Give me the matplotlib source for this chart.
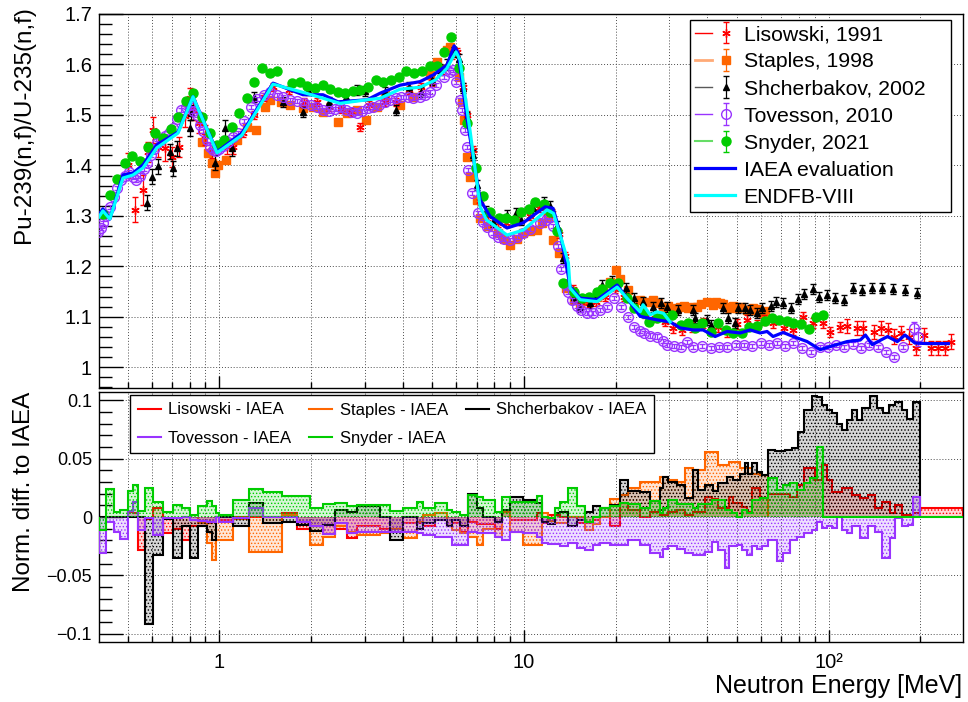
import numpy as np
import matplotlib
matplotlib.use("Agg")
import matplotlib.pyplot as plt
from matplotlib.lines import Line2D
from matplotlib.legend_handler import HandlerTuple
from matplotlib.ticker import LogLocator, MultipleLocator, FuncFormatter, NullFormatter

plt.rcParams['font.family'] = ['Liberation Sans', 'DejaVu Sans']
plt.rcParams['hatch.linewidth'] = 0.6

RED = '#ff0000'
ORANGE = '#ff6600'
BLACK = '#000000'
PURPLE = '#9933ff'
GREEN = '#00cc00'
BLUE = '#0000ff'
CYAN = '#00ffff'

# ---------------- upper panel: ratio Pu-239(n,f)/U-235(n,f) ----------------
iaea_e = [0.403, 0.415, 0.4375, 0.483, 0.521, 0.562, 0.624, 0.732, 0.820, 0.983, 1.187, 1.501,
          1.883, 2.19, 2.453, 3.054, 3.371, 3.92, 4.56, 5.03, 5.59, 5.90, 6.08, 6.51, 7.18, 7.74,
          8.80, 9.93, 11.73, 12.46, 13.14, 13.8, 14.17, 15.29, 17.38, 20.22, 21.97, 24.06, 27.35,
          30.2, 32.55, 35.9, 38.7, 42.4, 46.4, 51.2, 55.3, 59.6, 62.8, 65.7, 70.9, 76.5, 85.0,
          93.8, 101, 115, 127, 132, 139, 156, 168, 178, 192, 211, 247]
iaea_v = [1.302, 1.314, 1.294, 1.381, 1.385, 1.401, 1.441, 1.466, 1.536, 1.427, 1.464, 1.563,
          1.540, 1.540, 1.526, 1.530, 1.543, 1.559, 1.566, 1.579, 1.599, 1.637, 1.623, 1.490,
          1.332, 1.299, 1.276, 1.286, 1.318, 1.315, 1.266, 1.200, 1.160, 1.137, 1.134, 1.163,
          1.134, 1.101, 1.094, 1.090, 1.078, 1.074, 1.074, 1.061, 1.071, 1.068, 1.074, 1.068,
          1.071, 1.061, 1.069, 1.061, 1.051, 1.035, 1.041, 1.051, 1.054, 1.064, 1.045, 1.061,
          1.051, 1.064, 1.048, 1.047, 1.047]

endf_e = [0.403, 0.415, 0.4375, 0.483, 0.521, 0.562, 0.624, 0.732, 0.820, 0.983, 1.187, 1.501,
          1.93, 2.49, 3.05, 3.37, 3.92, 4.56, 5.11, 5.58, 5.98, 6.17, 6.67, 7.18, 7.54, 8.80,
          9.95, 11.9, 12.5, 13.3, 13.99, 14.17, 15.29, 17.38, 20.22, 22.0, 24.06, 24.6, 25.94,
          27.35, 28.7, 30.17]
endf_v = [1.298, 1.310, 1.294, 1.375, 1.381, 1.395, 1.435, 1.464, 1.536, 1.425, 1.460, 1.561,
          1.543, 1.523, 1.530, 1.533, 1.551, 1.555, 1.569, 1.592, 1.625, 1.609, 1.464, 1.318,
          1.292, 1.262, 1.272, 1.312, 1.305, 1.252, 1.207, 1.157, 1.134, 1.130, 1.159, 1.134,
          1.110, 1.124, 1.104, 1.110, 1.107, 1.090]

lis_e = [0.500, 0.528, 0.563, 0.585, 0.606, 0.629, 0.664, 0.698, 0.735, 0.772, 0.800, 0.821,
         0.86, 0.90, 0.95, 1.057, 1.11, 1.2, 1.3, 1.4, 1.5, 1.7, 1.9, 2.1, 2.3, 2.5, 2.7, 2.9,
         3.1, 3.5, 3.8, 4.2, 4.6, 5.0, 5.4, 5.8, 6.05, 6.3, 6.5, 6.8, 7.2, 7.6, 8.2, 8.7, 9.5,
         10.5, 11.2, 11.8, 12.4, 13.0, 13.6, 14.5, 15.4, 16.4, 17.3, 18.5, 19.9, 21.3, 23.0,
         25.0, 27.0, 29.0, 30.8, 33.1, 35.5, 38.7, 43.2, 46.4, 50.0, 53.9, 58.2, 61.2, 65.7,
         71.2, 76.5, 82.6, 89.0, 96.0, 101, 109, 115, 124, 130, 141, 148, 156, 164, 173, 184,
         194, 206, 217, 228, 240, 253]
lis_v = [1.400, 1.312, 1.352, 1.427, 1.470, 1.437, 1.434, 1.417, 1.437, 1.497, 1.533, 1.510,
         1.485, 1.460, 1.430, 1.437, 1.437, 1.465, 1.500, 1.535, 1.555, 1.550, 1.525, 1.525,
         1.515, 1.512, 1.505, 1.477, 1.520, 1.525, 1.525, 1.550, 1.555, 1.565, 1.590, 1.618,
         1.625, 1.555, 1.500, 1.430, 1.330, 1.300, 1.285, 1.285, 1.290, 1.300, 1.315, 1.310,
         1.305, 1.265, 1.220, 1.155, 1.130, 1.128, 1.130, 1.140, 1.155, 1.140, 1.120, 1.105,
         1.098, 1.090, 1.078, 1.074, 1.080, 1.088, 1.080, 1.070, 1.085, 1.094, 1.084, 1.094,
         1.088, 1.078, 1.074, 1.100, 1.088, 1.088, 1.070, 1.080, 1.082, 1.078, 1.078, 1.070,
         1.078, 1.074, 1.061, 1.068, 1.061, 1.039, 1.064, 1.039, 1.039, 1.039, 1.051]
lis_err = [0.025, 0.025, 0.030, 0.020, 0.025, 0.020, 0.025, 0.020, 0.020, 0.020, 0.020, 0.020,
           0.020, 0.020, 0.015, 0.015, 0.015] + [0.008] * 45 + [0.010] * 18 + [0.014] * 15

sta_e = [0.88, 0.918, 0.946, 0.968, 0.99, 1.05, 1.14, 1.23, 1.32, 1.41, 1.467, 1.60, 1.707,
         1.88, 2.03, 2.19, 2.45, 2.62, 2.83, 3.03, 3.30, 3.50, 3.92, 4.33, 4.93, 5.17, 5.59,
         5.71, 6.14, 6.28, 6.37, 6.51, 6.67, 7.03, 7.18, 7.6, 8.19, 8.6, 9.03, 9.5, 9.93, 10.5,
         11.0, 11.5, 12.0, 12.5, 13.0, 13.7, 14.6, 15.3, 16.2, 17.4, 18.2, 19.1, 20.07, 20.6,
         22.0, 24.1, 25.3, 26.6, 27.5, 28.7, 29.8, 30.9, 31.7, 32.6, 33.5, 34.5, 35.9, 37.0,
         38.0, 39.8, 41.8, 42.8, 44.0, 45.0, 46.4, 47.5, 48.5, 50.0, 51.5, 53.9, 55.0, 56.6,
         58.0, 59.6, 61.0, 62.0]
sta_v = [1.447, 1.425, 1.405, 1.385, 1.400, 1.410, 1.450, 1.476, 1.470, 1.516, 1.530, 1.525,
         1.520, 1.514, 1.516, 1.505, 1.486, 1.504, 1.510, 1.490, 1.515, 1.540, 1.520, 1.536,
         1.579, 1.605, 1.629, 1.635, 1.575, 1.526, 1.490, 1.417, 1.377, 1.332, 1.296, 1.280,
         1.266, 1.255, 1.243, 1.255, 1.266, 1.270, 1.272, 1.285, 1.296, 1.252, 1.227, 1.157,
         1.134, 1.128, 1.132, 1.140, 1.155, 1.170, 1.193, 1.174, 1.153, 1.134, 1.130, 1.134,
         1.128, 1.120, 1.122, 1.114, 1.118, 1.120, 1.122, 1.118, 1.120, 1.120, 1.125, 1.130,
         1.124, 1.130, 1.128, 1.126, 1.120, 1.118, 1.122, 1.118, 1.120, 1.114, 1.114, 1.118,
         1.116, 1.110, 1.108, 1.112]

shc_e = [0.580, 0.600, 0.631, 0.689, 0.706, 0.725, 0.801, 0.81, 0.968, 1.044, 1.098, 1.30,
         1.62, 1.888, 1.96, 2.3, 2.6, 2.83, 3.01, 3.5, 3.8, 4.2, 4.6, 5.0, 5.3, 5.6, 5.9, 6.1,
         6.3, 6.5, 6.8, 7.0, 7.5, 7.9, 8.8, 9.4, 9.8, 10.7, 11.6, 12.2, 12.8, 13.4, 14.6, 15.3,
         16.5, 17.4, 18.1, 19.5, 21.6, 22.9, 24.6, 26.5, 28.1, 29.5, 32.0, 35.9, 36.4, 39.8,
         41.1, 45.0, 46.9, 49.3, 50.4, 53.0, 55.3, 58.3, 60.5, 64.7, 67.2, 70.8, 75.3, 79.3,
         82.7, 88.6, 92.8, 99.1, 105, 112, 120, 129, 139, 150, 163, 178, 195]
shc_v = [1.326, 1.378, 1.398, 1.427, 1.394, 1.434, 1.474, 1.504, 1.405, 1.474, 1.434, 1.535,
         1.526, 1.506, 1.550, 1.525, 1.535, 1.550, 1.547, 1.545, 1.510, 1.555, 1.545, 1.570,
         1.590, 1.600, 1.625, 1.610, 1.553, 1.496, 1.420, 1.361, 1.310, 1.288, 1.302, 1.306,
         1.292, 1.316, 1.328, 1.320, 1.280, 1.217, 1.139, 1.120, 1.128, 1.145, 1.163, 1.170,
         1.157, 1.137, 1.130, 1.120, 1.128, 1.120, 1.114, 1.114, 1.098, 1.094, 1.084, 1.118,
         1.098, 1.088, 1.118, 1.118, 1.114, 1.108, 1.118, 1.122, 1.130, 1.128, 1.118, 1.136,
         1.145, 1.155, 1.140, 1.143, 1.138, 1.134, 1.157, 1.153, 1.157, 1.157, 1.155, 1.153,
         1.147]
shc_err = [0.015] * 11 + [0.010] * 74

tov_e = [0.400, 0.408, 0.415, 0.425, 0.437, 0.450, 0.462, 0.475, 0.490, 0.505, 0.520, 0.535,
         0.550, 0.565, 0.580, 0.595, 0.610, 0.625, 0.645, 0.665, 0.686, 0.705, 0.725, 0.749,
         0.775, 0.800, 0.822, 0.842, 0.862, 0.884, 0.910, 0.935, 0.953, 0.975, 1.00, 1.03,
         1.07, 1.11, 1.15, 1.21, 1.27, 1.33, 1.40, 1.47, 1.55, 1.62, 1.71, 1.80, 1.90, 2.00,
         2.10, 2.19, 2.30, 2.40, 2.49, 2.60, 2.72, 2.83, 2.95, 3.07, 3.20, 3.35, 3.50, 3.64,
         3.80, 3.95, 4.15, 4.33, 4.55, 4.75, 4.93, 5.15, 5.45, 5.70, 5.84, 6.00, 6.19, 6.28,
         6.40, 6.51, 6.56, 6.76, 7.09, 7.35, 7.59, 7.90, 8.19, 8.60, 9.03, 9.50, 9.93, 10.5,
         11.3, 11.8, 12.2, 12.5, 12.9, 13.2, 13.6, 14.0, 14.4, 14.9, 15.4, 16.1, 16.9, 17.8,
         18.8, 19.7, 20.8, 21.9, 22.9, 24.0, 24.8, 26.0, 27.4, 28.5, 29.5, 31.0, 32.7, 34.3,
         35.9, 38.3, 41.1, 43.5, 46.4, 49.5, 52.7, 56.0, 60.0, 63.8, 67.9, 72.0, 76.5, 81.5,
         87.6, 93.5, 99.6, 106, 112.6, 120, 128, 136, 145, 154, 164, 176, 190, 196]
tov_v = [1.268, 1.276, 1.285, 1.300, 1.318, 1.338, 1.355, 1.372, 1.380, 1.386, 1.378, 1.372,
         1.380, 1.392, 1.405, 1.420, 1.432, 1.444, 1.450, 1.458, 1.464, 1.475, 1.492, 1.510,
         1.516, 1.520, 1.508, 1.500, 1.480, 1.468, 1.450, 1.436, 1.430, 1.428, 1.432, 1.438,
         1.446, 1.456, 1.465, 1.488, 1.515, 1.532, 1.540, 1.545, 1.540, 1.535, 1.530, 1.527,
         1.524, 1.520, 1.515, 1.510, 1.508, 1.512, 1.516, 1.510, 1.505, 1.504, 1.508, 1.514,
         1.516, 1.520, 1.525, 1.530, 1.534, 1.536, 1.535, 1.534, 1.536, 1.540, 1.545, 1.560,
         1.576, 1.586, 1.590, 1.565, 1.530, 1.510, 1.470, 1.437, 1.391, 1.345, 1.306, 1.288,
         1.278, 1.266, 1.258, 1.254, 1.252, 1.258, 1.266, 1.275, 1.286, 1.292, 1.298, 1.280,
         1.240, 1.195, 1.165, 1.150, 1.134, 1.122, 1.114, 1.108, 1.108, 1.114, 1.120, 1.137,
         1.120, 1.100, 1.080, 1.072, 1.068, 1.063, 1.061, 1.052, 1.045, 1.043, 1.041, 1.050,
         1.041, 1.043, 1.039, 1.040, 1.041, 1.044, 1.045, 1.042, 1.048, 1.044, 1.048, 1.042,
         1.048, 1.038, 1.031, 1.040, 1.041, 1.044, 1.041, 1.046, 1.039, 1.044, 1.041, 1.030,
         1.021, 1.041, 1.078, 1.060]
tov_err = [0.004] * 146 + [0.012, 0.018]

sny_e = [0.415, 0.4375, 0.461, 0.490, 0.518, 0.548, 0.582, 0.617, 0.655, 0.694, 0.732, 0.776,
         0.820, 0.88, 0.93, 0.98, 1.036, 1.10, 1.16, 1.23, 1.30, 1.38, 1.467, 1.55, 1.73, 1.84,
         1.94, 2.06, 2.19, 2.31, 2.45, 2.58, 2.74, 2.90, 3.08, 3.27, 3.45, 3.66, 3.88, 4.11,
         4.36, 4.64, 4.90, 5.20, 5.47, 5.78, 6.10, 6.50, 6.95, 7.35, 7.76, 8.27, 8.76, 9.30,
         9.75, 10.4, 10.9, 11.6, 12.2, 12.8, 13.4, 14.6, 15.5, 16.3, 17.4, 18.0, 19.1, 20.3,
         21.8, 23.0, 24.6, 25.7, 27.4, 28.7, 30.6, 32.7, 34.6, 36.4, 38.3, 41.1, 43.3, 46.0,
         48.6, 51.9, 54.6, 58.2, 61.6, 65.4, 68.5, 72.9, 76.5, 81.3, 86.5, 90.9, 95.9]
sny_v = [1.304, 1.342, 1.373, 1.405, 1.419, 1.409, 1.437, 1.464, 1.454, 1.472, 1.496, 1.528,
         1.543, 1.495, 1.465, 1.440, 1.450, 1.476, 1.504, 1.533, 1.565, 1.593, 1.583, 1.587,
         1.563, 1.565, 1.557, 1.553, 1.559, 1.551, 1.545, 1.543, 1.548, 1.550, 1.555, 1.569,
         1.565, 1.569, 1.575, 1.587, 1.583, 1.587, 1.597, 1.597, 1.625, 1.654, 1.593, 1.484,
         1.394, 1.340, 1.308, 1.296, 1.296, 1.292, 1.308, 1.314, 1.328, 1.324, 1.308, 1.270,
         1.167, 1.150, 1.137, 1.139, 1.150, 1.155, 1.167, 1.167, 1.137, 1.118, 1.108, 1.090,
         1.098, 1.100, 1.104, 1.084, 1.088, 1.078, 1.088, 1.070, 1.088, 1.074, 1.068, 1.068,
         1.080, 1.082, 1.092, 1.098, 1.094, 1.092, 1.088, 1.086, 1.076, 1.100, 1.104]
sny_err = [0.005] * 95

# ---------------- lower panel: normalised differences to IAEA ----------------
low_edges = [0.402, 0.425, 0.450, 0.474, 0.503, 0.520, 0.542, 0.570, 0.604, 0.652, 0.706, 0.753,
             0.801, 0.853, 0.909, 0.944, 0.975, 1.0, 1.111, 1.254, 1.394, 1.603, 1.795, 1.986,
             2.195, 2.398, 2.620, 2.826, 3.371, 3.635, 4.019, 4.448, 4.676, 5.108, 5.580, 5.795,
             6.170, 6.569, 6.999, 7.357, 8.036, 8.454, 9.004, 9.955, 11.02, 11.44, 12.03, 12.65,
             13.14, 13.99, 14.91, 15.87, 16.90, 17.78, 19.17, 20.68, 22.02, 24.06, 25.94, 27.98]

lis_d_low = [0.0046, 0.0037, -0.028, -0.002, 0.008, -0.0134, -0.0105, -0.020, -0.0077, -0.008,
             -0.0054, -0.004, 0.0, -0.0026, 0.0, 0.0, 0.0, 0.0037, -0.01, -0.008, -0.0145, -0.01,
             -0.018, -0.008, -0.0105, -0.0105, -0.0054, -0.0054, -0.008, -0.0026, -0.008, -0.005,
             -0.0125, -0.004, -0.006, -0.006, -0.01, 0.005, -0.0026, -0.0026, 0.003, -0.0054,
             0.0017, 0.0017, 0.0, 0.0, -0.0054, -0.0054, -0.0026, 0.0, -0.008, 0.0117, 0.006,
             0.0, 0.0046]
lis_d_hi_edges = [29.79, 31.74, 33.81, 35.98, 39.30, 41.35, 43.46, 46.96, 48.60, 51.89, 53.90,
                  55.96, 59.58, 63.44, 70.26, 74.74, 78.62, 83.08, 90.3, 95.03, 98.65, 102.4,
                  110.5, 119.2, 126.9, 135.1, 142.1, 149.5, 159.2, 165.3, 173.9, 189.8, 198.7, 276]
lis_d_hi = [0.0017, 0.004, 0.006, 0.0017, 0.0046, 0.0174, 0.015, 0.0074, 0.0174, 0.0117, 0.0088,
            0.0046, 0.0245, 0.016, 0.020, 0.020, 0.0174, 0.027, 0.0416, 0.0316, 0.0444, 0.032,
            0.0217, 0.0245, 0.0188, 0.016, 0.019, 0.0074, 0.013, 0.003, 0.010, 0.0017, 0.003, 0.008]

sta_d_low = [-0.0054, -0.0225, -0.0367, -0.0197, -0.0197, -0.002, -0.0296, -0.0296, 0.0017,
             -0.004, -0.024, -0.0168, -0.008, -0.0125, -0.015, -0.014, -0.01, -0.018, -0.004,
             0.0017, 0.003, -0.008, -0.011, -0.014, -0.0168, -0.024, -0.01, -0.0168, 0.0046,
             -0.0125, -0.024, -0.024, 0.003, -0.003, -0.0054, -0.0054, 0.0, 0.0, -0.011, -0.006,
             0.0, 0.015, 0.019, 0.0245, 0.030, 0.030]
sta_d_hi_edges = [29.79, 31.74, 33.81, 35.98, 39.30, 41.85, 43.46, 46.96, 51.23, 55.96, 59.58, 63.44]
sta_d_hi = [0.0345, 0.0316, 0.030, 0.0416, 0.040, 0.0558, 0.0558, 0.0444, 0.047, 0.0416, 0.037, 0.036]

shc_d_low = [0.0, 0.0, 0.0, 0.0, 0.0, 0.0, 0.0, -0.0915, -0.0325, -0.002, -0.035, -0.008, -0.035,
             -0.008, -0.0125, -0.0197, 0.0, 0.0, -0.008, 0.012, -0.005, -0.004, -0.007, -0.0117,
             -0.007, 0.006, 0.0046, 0.009, 0.0, -0.0197, 0.0, -0.01, -0.0054, -0.0026, -0.008,
             -0.0026, -0.008, 0.020, 0.0074, 0.0, -0.004, 0.006, 0.0174, 0.0145, 0.0117, -0.004,
             -0.006, 0.003, 0.0046, -0.008, -0.0026, 0.0046, 0.0094, 0.0074, 0.010, 0.0316, 0.022,
             0.0217, 0.014]
shc_d_hi_edges = [28.69, 29.79, 31.74, 33.81, 35.98, 37.37, 39.30, 41.85, 43.46, 46.33, 48.70,
                  51.23, 53.20, 54.55, 55.96, 58.12, 60.36, 63.44, 66.73, 71.97, 75.71, 79.58,
                  83.08, 88.10, 91.49, 95.03, 98.65, 102.4, 106.4, 110.5, 114.7, 119.2, 123.8,
                  128.5, 136.9, 144.0, 151.3, 157.2, 165.3, 173.9, 180.6, 189.8, 198.7]
shc_d_hi = [0.0245, 0.0345, 0.030, 0.027, 0.016, 0.040, 0.023, 0.027, 0.022, 0.029, 0.0345,
            0.0316, 0.037, 0.046, 0.037, 0.046, 0.0387, 0.036, 0.057, 0.0564, 0.057, 0.0587,
            0.073, 0.0915, 0.104, 0.103, 0.096, 0.0915, 0.0886, 0.080, 0.0744, 0.083, 0.0915,
            0.083, 0.093, 0.104, 0.093, 0.0886, 0.096, 0.0986, 0.0915, 0.084, 0.0986]

tov_d_low = [-0.031, -0.004, -0.0125, -0.019, 0.005, 0.013, -0.011, -0.001, -0.015, -0.001,
             -0.001, 0.0, -0.0026, -0.0034, -0.004, -0.004, 0.0, -0.004, -0.001, 0.008, 0.0, 0.0,
             -0.004, -0.008, -0.0145, -0.0054, -0.0134, -0.0125, -0.0125, -0.0125, -0.0125,
             -0.014, -0.0155, -0.0168, -0.0168, -0.024, -0.024, -0.0125, -0.014, -0.014, -0.0168,
             -0.0197, -0.0125, -0.014, -0.0168, -0.0225, -0.0234, -0.0234, -0.025, -0.0225,
             -0.0268, -0.028, -0.024, -0.0225, -0.024, -0.024, -0.0197, -0.024, -0.031]
tov_d_hi_edges = [28.69, 29.79, 31.74, 33.81, 35.98, 39.30, 41.35, 43.46, 45.74, 46.96, 49.95,
                  51.89, 53.90, 55.96, 58.12, 60.36, 63.44, 67.59, 71.05, 74.74, 78.62, 83.08,
                  88.10, 91.49, 95.03, 98.65, 102.4, 106.4, 110.5, 114.7, 119.2, 126.9, 135.1,
                  142.1, 149.5, 159.2, 165.3, 173.9, 182.8, 189.8, 198.7]
tov_d_hi = [-0.034, -0.027, -0.025, -0.027, -0.031, -0.0325, -0.030, -0.021, -0.028, -0.044,
            -0.025, -0.024, -0.028, -0.0325, -0.025, -0.027, -0.025, -0.0197, -0.038, -0.031,
            -0.0197, -0.0168, -0.014, -0.011, -0.004, -0.0097, -0.008, -0.0097, 0.0, -0.011,
            -0.014, -0.008, -0.018, -0.008, -0.0125, -0.035, -0.018, -0.001, -0.008, -0.007, 0.0174]

sny_d_low = [-0.011, 0.0236, 0.004, 0.006, 0.022, 0.027, 0.005, 0.025, 0.0125, 0.004, 0.0105,
             0.0074, 0.002, 0.009, 0.0137, 0.0097, 0.003, 0.002, 0.0145, 0.0236, 0.0217, 0.018,
             0.018, 0.008, 0.011, 0.012, 0.0094, 0.010, 0.010, 0.0054, 0.008, 0.013, 0.008, 0.012,
             0.006, 0.004, 0.0017, 0.019, 0.0174, 0.0145, 0.0046, 0.0168, 0.013, 0.013, 0.018,
             0.0003, -0.001, 0.0074, 0.013, 0.025, 0.0094, -0.004, 0.0, 0.008, 0.0094, 0.0117,
             0.011, 0.0074, 0.014]
sny_d_hi_edges = [28.69, 29.79, 31.74, 35.98, 37.37, 41.35, 45.74, 48.11, 49.95, 51.89, 53.90,
                  55.96, 59.58, 63.44, 67.59, 71.05, 74.74, 78.62, 83.08, 86.98, 91.49, 95.46, 276]
sny_d_hi = [0.0037, 0.0074, 0.0145, 0.011, 0.0074, 0.011, 0.0145, 0.006, 0.003, 0.0, 0.006, 0.003,
            0.0145, 0.016, 0.033, 0.023, 0.027, 0.029, 0.023, 0.029, 0.033, 0.060, 0.0]

# ---------------- figure ----------------
fig = plt.figure(figsize=(9.68, 7.02), dpi=100)
ax1 = fig.add_axes([99 / 968, 1 - 388 / 702, 864 / 968, 374 / 702])
ax2 = fig.add_axes([99 / 968, 1 - 642 / 702, 864 / 968, 250 / 702])


def points(ax, e, v, err, color, marker, ms, mfc, mew=1.0, z=3):
    return ax.errorbar(e, v, yerr=err, fmt='', ls='none', marker=marker, color=color, ms=ms,
                       mfc=mfc, mec=color, mew=mew, ecolor=color, elinewidth=0.9, capsize=2.2,
                       capthick=0.9, zorder=z)


eb_sta = points(ax1, sta_e, sta_v, 0.004, ORANGE, 's', 6, ORANGE, z=3)
eb_lis = points(ax1, lis_e, lis_v, lis_err, RED, (6, 2, 0), 6, RED, mew=1.0, z=3.2)
eb_shc = points(ax1, shc_e, shc_v, shc_err, BLACK, '^', 5, BLACK, z=3.4)
eb_tov = points(ax1, tov_e, tov_v, tov_err, PURPLE, 'o', 7, 'none', z=3.6)
eb_sny = points(ax1, sny_e, sny_v, sny_err, GREEN, 'o', 6.5, GREEN, z=3.8)
ln_iaea, = ax1.plot(iaea_e, iaea_v, color=BLUE, lw=2.3, zorder=5)
ln_endf, = ax1.plot(endf_e, endf_v, color=CYAN, lw=2.3, zorder=6)


def draw_diff(ax, edges, vals, color, z):
    ax.stairs(vals, edges, baseline=0, fill=True, facecolor=color, alpha=0.16, lw=0, zorder=z)
    ax.stairs(vals, edges, baseline=0, fill=True, facecolor='none', edgecolor=color, hatch='.....',
              lw=0, zorder=z)
    return ax.stairs(vals, edges, baseline=0, color=color, lw=1.5, zorder=z + 0.1)


draw_diff(ax2, low_edges[4:] + lis_d_hi_edges, lis_d_low + lis_d_hi, RED, 2)
draw_diff(ax2, low_edges[13:] + sta_d_hi_edges, sta_d_low + sta_d_hi, ORANGE, 2.2)
draw_diff(ax2, low_edges + shc_d_hi_edges, shc_d_low + shc_d_hi, BLACK, 2.4)
draw_diff(ax2, low_edges + tov_d_hi_edges, tov_d_low + tov_d_hi, PURPLE, 2.6)
draw_diff(ax2, low_edges + sny_d_hi_edges, sny_d_low + sny_d_hi, GREEN, 2.8)

# ---------------- axes style (ROOT-like) ----------------
grid_kw = dict(ls=(0, (1, 2)), color='0.3', lw=0.7)
for ax in (ax1, ax2):
    ax.set_xscale('log')
    ax.set_xlim(0.403, 276)
    ax.xaxis.set_major_locator(LogLocator(base=10, numticks=10))
    ax.xaxis.set_minor_locator(LogLocator(base=10, subs=np.arange(2, 10), numticks=30))
    ax.xaxis.set_minor_formatter(NullFormatter())
    ax.tick_params(which='both', direction='in', top=False, right=False, width=1.0)
    ax.tick_params(axis='x', which='major', length=8.5)
    ax.tick_params(axis='x', which='minor', length=4.5)
    ax.tick_params(axis='y', which='major', length=17, pad=5)
    ax.tick_params(axis='y', which='minor', length=9)
    ax.grid(True, which='both', axis='x', **grid_kw)
    ax.grid(True, which='major', axis='y', **grid_kw)
    ax.set_axisbelow(True)
    for s in ax.spines.values():
        s.set_linewidth(1.0)

ax1.set_ylim(0.959, 1.7)
ax1.yaxis.set_major_locator(MultipleLocator(0.1))
ax1.yaxis.set_minor_locator(MultipleLocator(0.02))
ax1.yaxis.set_major_formatter(FuncFormatter(lambda v, p: '%g' % round(v, 3)))
ax1.xaxis.set_major_formatter(NullFormatter())
ax1.tick_params(axis='y', labelsize=14.5)

ax2.set_ylim(-0.107, 0.107)
ax2.yaxis.set_major_locator(MultipleLocator(0.05))
ax2.yaxis.set_minor_locator(MultipleLocator(0.01))
ax2.yaxis.set_major_formatter(FuncFormatter(
    lambda v, p: '0' if abs(v) < 1e-9 else ('%g' % round(v, 3)).replace('-', '\u2212')))
xlab = {1: '1', 10: '10', 100: '10\u00b2'}
ax2.xaxis.set_major_formatter(FuncFormatter(lambda v, p: xlab.get(int(round(v)), '')))
ax2.tick_params(axis='y', labelsize=13)
ax2.tick_params(axis='x', labelsize=14.5, pad=8)

fig.text(24 / 968, 1 - 6 / 702, 'Pu-239(n,f)/U-235(n,f)', rotation=90, ha='center', va='top',
         fontsize=17.5)
fig.text(24 / 968, 1 - 392 / 702, 'Norm. diff. to IAEA', rotation=90, ha='center', va='top',
         fontsize=17.5)
fig.text(962 / 968, 1 - 686 / 702, 'Neutron Energy [MeV]', ha='right', va='center', fontsize=18)

# ---------------- legends ----------------
handles1 = [
    (Line2D([], [], color=RED, lw=1), eb_lis),
    (Line2D([], [], color='#ffaa77', lw=2), eb_sta),
    (Line2D([], [], color='0.35', lw=1), eb_shc),
    (Line2D([], [], color=PURPLE, lw=1), eb_tov),
    (Line2D([], [], color='#66dd66', lw=1.5), eb_sny),
    ln_iaea, ln_endf]
labels1 = ['Lisowski, 1991', 'Staples, 1998', 'Shcherbakov, 2002', 'Tovesson, 2010',
           'Snyder, 2021', 'IAEA evaluation', 'ENDFB-VIII']
leg1 = ax1.legend(handles1, labels1, loc='upper left', bbox_to_anchor=(0.684, 0.468, 0.302, 0.516),
                  mode='expand', fontsize=15.3, fancybox=False, edgecolor='black', framealpha=1,
                  borderaxespad=0, handlelength=1.85, handletextpad=0.42, labelspacing=0.38,
                  borderpad=0.25, handler_map={tuple: HandlerTuple(ndivide=None)})
leg1.get_frame().set_linewidth(1.0)
leg1.set_zorder(10)

h2 = [Line2D([], [], color=c, lw=1.5) for c in (RED, PURPLE, ORANGE, GREEN, BLACK)]
l2 = ['Lisowski - IAEA', 'Tovesson - IAEA', 'Staples - IAEA', 'Snyder - IAEA',
      'Shcherbakov - IAEA']
leg2 = ax2.legend(h2, l2, ncol=3, loc='upper left', bbox_to_anchor=(0.0359, 0.988), fontsize=12,
                  fancybox=False, edgecolor='black', framealpha=1, borderaxespad=0,
                  handlelength=1.4, handletextpad=0.45, columnspacing=1.05, labelspacing=0.8,
                  borderpad=0.45)
leg2.get_frame().set_linewidth(1.0)
leg2.set_zorder(10)

fig.savefig('out.png', dpi=100)
